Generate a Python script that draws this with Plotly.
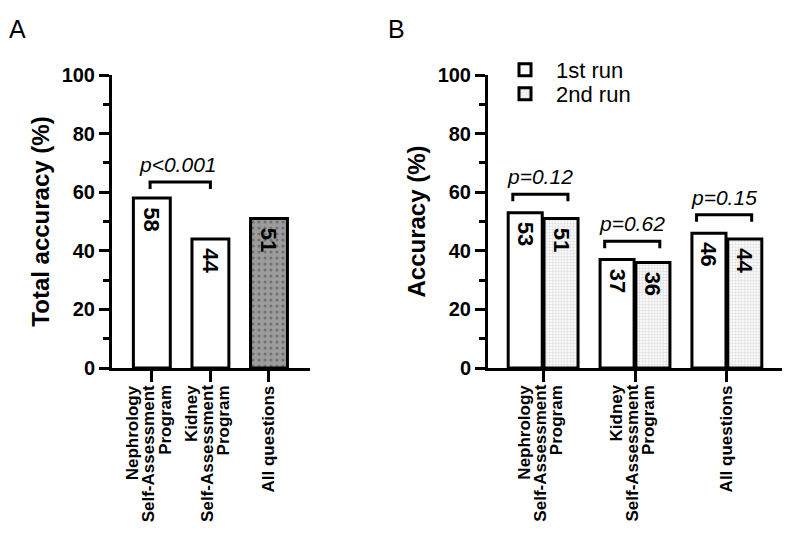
import plotly.graph_objects as go

# ---- data ----
categories = ["Nephrology<br>Self-Assessment<br>Program",
              "Kidney<br>Self-Assessment<br>Program",
              "All questions"]
total_accuracy = [58, 44, 51]
run1_accuracy = [53, 37, 46]
run2_accuracy = [51, 36, 44]
series_names = ["1st run", "2nd run"]
p_label_A = "p<0.001"
p_labels_B = ["p=0.12", "p=0.62", "p=0.15"]

FONT = "Liberation Sans, Arial, sans-serif"
LW = 3
BAR_TXT = dict(family=FONT, size=22, color="black", weight="bold")
P_FONT = dict(family=FONT, size=21, color="black")

fig = go.Figure()

fig.add_trace(go.Bar(
    x=categories, y=total_accuracy, xaxis="x", yaxis="y",
    width=0.63, showlegend=False,
    texttemplate="\u00a0%{y}", textposition="inside",
    insidetextanchor="end", textangle=90, constraintext="none",
    textfont=BAR_TXT, hoverinfo="x+y",
    marker=dict(color=["white", "white", "#9c9c9c"],
                line=dict(color="black", width=LW),
                pattern=dict(shape=["", "", "."], fgcolor="white",
                             size=6, solidity=0.22)),
))

fig.add_trace(go.Bar(
    x=categories, y=run1_accuracy, xaxis="x2", yaxis="y2", name=series_names[0],
    legend="legend",
    texttemplate="\u00a0%{y}", textposition="inside",
    insidetextanchor="end", textangle=90, constraintext="none",
    textfont=BAR_TXT,
    marker=dict(color="white", line=dict(color="black", width=LW)),
))
fig.add_trace(go.Bar(
    x=categories, y=run2_accuracy, xaxis="x2", yaxis="y2", name=series_names[1],
    legend="legend2",
    texttemplate="\u00a0%{y}", textposition="inside",
    insidetextanchor="end", textangle=90, constraintext="none",
    textfont=BAR_TXT,
    marker=dict(color="white", line=dict(color="black", width=LW),
                pattern=dict(shape=".", fgcolor="#c4c4c4", bgcolor="white",
                             size=3, solidity=0.5)),
))

shapes = []
annotations = []

def bracket(xref, yref, xa, xb, ytop, drop=2.4):
    return dict(type="path", xref=xref, yref=yref,
                path=f"M {xa},{ytop - drop} L {xa},{ytop} L {xb},{ytop} L {xb},{ytop - drop}",
                line=dict(color="black", width=LW))

# Panel A bracket between first two categories
yA = max(total_accuracy[0], total_accuracy[1]) + 5.5
shapes.append(bracket("x", "y", -0.03, 1, yA))
annotations.append(dict(xref="x", yref="y", x=0.45, y=yA + 1.5, text=f"<i>{p_label_A}</i>",
                        showarrow=False, yanchor="bottom", font=P_FONT))

# Panel B brackets
for i, p in enumerate(p_labels_B):
    yt = max(run1_accuracy[i], run2_accuracy[i]) + 6.3
    shapes.append(bracket("x2", "y2", i - 0.33, i + 0.27, yt))
    annotations.append(dict(xref="x2", yref="y2", x=i - 0.03, y=yt + 1.3, text=f"<i>{p}</i>",
                            showarrow=False, yanchor="bottom", font=P_FONT))

# Category labels (rotated, tightly spaced lines, right-aligned at the top)
LABEL_TOP = 1 - 384/542
for xref in ("x", "x2"):
    for ci, cat in enumerate(categories):
        lines = cat.split("<br>")
        n = len(lines)
        for li, line in enumerate(lines):
            shift = (li - (n - 1) / 2) * 16 - (3 if n > 1 else 0)
            annotations.append(dict(
                xref=xref, yref="paper", x=ci, y=LABEL_TOP, xshift=shift,
                text=line, textangle=-90, showarrow=False,
                xanchor="center", yanchor="top", borderpad=0,
                font=dict(family=FONT, size=17, color="black", weight="bold")))

# Panel letters
annotations.append(dict(xref="paper", yref="paper", x=17/800, y=1 - 29/542, text="A",
                        showarrow=False, xanchor="center", yanchor="middle",
                        font=dict(family=FONT, size=25, color="black")))
annotations.append(dict(xref="paper", yref="paper", x=396/800, y=1 - 29/542, text="B",
                        showarrow=False, xanchor="center", yanchor="middle",
                        font=dict(family=FONT, size=25, color="black")))

ydom = [1 - 368/542, 1 - 75/542]
common_y = dict(range=[0, 100], domain=ydom, dtick=20, tick0=0, automargin=False,
                ticks="outside", ticklen=10, tickwidth=LW, tickcolor="black",
                showline=True, linewidth=LW, linecolor="black",
                showgrid=False, zeroline=False,
                minor=dict(dtick=10, ticks="outside", ticklen=6, tickwidth=LW, tickcolor="black"),
                tickfont=dict(family=FONT, size=20, color="black", weight="bold"))
common_x = dict(type="category", ticks="outside", ticklen=11, tickwidth=LW, tickcolor="black",
                showline=True, linewidth=LW, linecolor="black", showgrid=False,
                showticklabels=False, automargin=False)
TITLE_FONT = dict(family=FONT, size=24, color="black", weight="bold")
LEG_FONT = dict(family=FONT, size=22, color="black")

fig.update_layout(
    width=800, height=542,
    margin=dict(l=0, r=0, t=0, b=0, autoexpand=False),
    paper_bgcolor="white", plot_bgcolor="white",
    barmode="group", bargap=0.22, bargroupgap=0.05,
    xaxis=dict(domain=[112/800, 310/800], range=[-0.68, 2.70], anchor="y", **common_x),
    yaxis=dict(anchor="x", title=dict(text="Total accuracy (%)", standoff=6, font=TITLE_FONT),
               **common_y),
    xaxis2=dict(domain=[488/800, 782/800], range=[-0.6, 2.6], anchor="y2", **common_x),
    yaxis2=dict(anchor="x2", title=dict(text="Accuracy (%)", standoff=6, font=TITLE_FONT),
                **common_y),
    legend=dict(x=494/800, y=1 - 70/542, xanchor="left", yanchor="middle",
                bgcolor="rgba(0,0,0,0)", font=LEG_FONT, itemwidth=52),
    legend2=dict(x=494/800, y=1 - 94/542, xanchor="left", yanchor="middle",
                 bgcolor="rgba(0,0,0,0)", font=LEG_FONT, itemwidth=52),
    shapes=shapes, annotations=annotations,
    font=dict(family=FONT, color="black"),
)

fig.write_html("out.html")
